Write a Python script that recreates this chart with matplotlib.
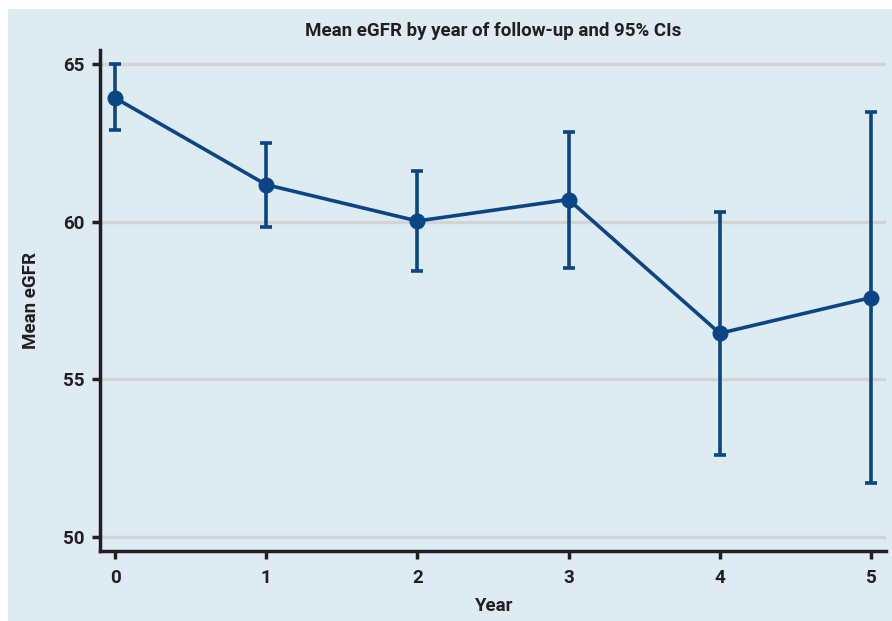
import matplotlib.pyplot as plt
from matplotlib.patches import Rectangle

# --- datos ---
years = [0, 1, 2, 3, 4, 5]
mean_egfr = [63.92, 61.17, 60.02, 60.70, 56.46, 57.59]
ci_low = [62.91, 59.84, 58.42, 58.54, 52.60, 51.71]
ci_high = [65.00, 62.50, 61.61, 62.85, 60.32, 63.48]
y_ticks = [50, 55, 60, 65]

azul = '#0b4585'
negro = '#231f20'
fondo = '#ddebf3'

plt.rcParams['font.family'] = ['Roboto', 'DejaVu Sans']
plt.rcParams['font.weight'] = 'bold'

fig = plt.figure(figsize=(8.92, 6.21), dpi=100, facecolor='white')
fig.patches.append(Rectangle((8 / 892, 0), 1 - 8 / 892, 1 - 9 / 621,
                             transform=fig.transFigure, facecolor=fondo,
                             edgecolor='none', zorder=-10))

ax = fig.add_axes([100 / 892, 70 / 621, 786 / 892, 501 / 621])
ax.set_facecolor('none')

err_low = [m - l for m, l in zip(mean_egfr, ci_low)]
err_high = [h - m for m, h in zip(mean_egfr, ci_high)]
ax.errorbar(years, mean_egfr, yerr=[err_low, err_high], color=azul,
            linewidth=2.6, elinewidth=2.6, capsize=4, capthick=2.6,
            marker='o', markersize=10.5, zorder=3)

for v in y_ticks:
    ax.axhline(v, color='#d2d3d5', linewidth=2.4, zorder=1)

ax.set_xlim(-0.1, 5.1)
ax.set_ylim(49.56, 65.44)
ax.set_xticks(years)
ax.set_yticks(y_ticks)

for s in ['top', 'right']:
    ax.spines[s].set_visible(False)
for s in ['left', 'bottom']:
    ax.spines[s].set_linewidth(2.5)
    ax.spines[s].set_color(negro)

ax.tick_params(axis='both', length=6, width=2.5, color=negro,
               labelsize=13.5, labelcolor=negro)
ax.tick_params(axis='x', pad=7)
ax.tick_params(axis='y', pad=5)
for lbl in ax.get_xticklabels() + ax.get_yticklabels():
    lbl.set_fontweight('bold')

ax.set_xlabel('Year', fontsize=13.5, fontweight='bold', color=negro, labelpad=7)
ax.set_ylabel('Mean eGFR', fontsize=13.5, fontweight='bold', color=negro, labelpad=17)
ax.set_title('Mean eGFR by year of follow-up and 95% CIs', fontsize=13.5,
             fontweight='bold', color=negro, pad=10)

plt.savefig('out.png', dpi=100, facecolor=fig.get_facecolor())
